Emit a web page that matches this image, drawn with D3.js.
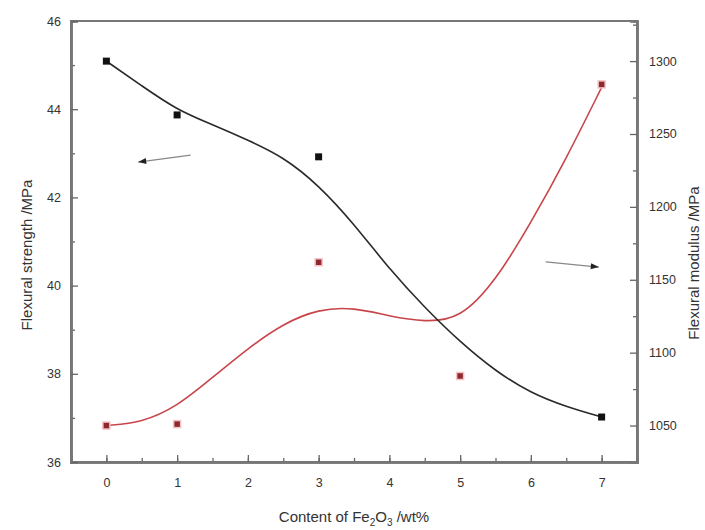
<!DOCTYPE html>
<html>
<head>
    <meta charset="utf-8">
    <title>Flexural strength and modulus vs Fe2O3</title>
    <script src="https://d3js.org/d3.v7.min.js"></script>
    <style>
        body { margin: 0; background: #fff; }
        text { font-family: "Liberation Sans", Arial, sans-serif; fill: #333; }
    </style>
</head>
<body>
<script>
    // measured points
    var strengthX = [0, 1, 3, 7];
    var strength = [45.09, 43.87, 42.92, 37.02];
    var modulusX = [0, 1, 3, 5, 7];
    var modulus = [1050, 1051, 1162, 1084, 1284];

    // smoothed curves
    var fitX = [0, 0.5, 1, 1.5, 2, 2.5, 3, 3.5, 4, 4.5, 5, 5.5, 6, 6.5, 7];
    var strengthFit = [45.09, 44.53, 43.98, 43.65, 43.30, 42.92, 42.28, 41.40, 40.37, 39.50, 38.72, 38.06, 37.56, 37.25, 37.02];
    var modulusFit = [1050, 1052, 1063, 1083, 1103, 1120, 1130, 1131, 1125, 1121, 1123, 1149, 1189, 1233, 1282];

    // ticks
    var xTicks = [0, 1, 2, 3, 4, 5, 6, 7];
    var leftTicks = [36, 38, 40, 42, 44, 46];
    var rightTicks = [1050, 1100, 1150, 1200, 1250, 1300];

    // arrows [x1, y1, x2, y2] in x / left-axis units
    var arrows = [[1.19, 42.96, 0.45, 42.80], [6.21, 40.54, 6.96, 40.42]];

    var w = 705, h = 530;
    var m = {top: 21, right: 68, bottom: 68, left: 71};

    var svg = d3.select("body").append("svg")
        .attr("width", w)
        .attr("height", h);

    var x = d3.scaleLinear().domain([-0.5, 7.5]).range([m.left, w - m.right]);
    var yL = d3.scaleLinear().domain([36, 46]).range([h - m.bottom, m.top]);
    var yR = d3.scaleLinear().domain([1025, 1327.5]).range([h - m.bottom, m.top]);

    // frame
    svg.append("rect")
        .attr("x", m.left).attr("y", m.top)
        .attr("width", w - m.left - m.right)
        .attr("height", h - m.top - m.bottom)
        .attr("fill", "none")
        .attr("stroke", "#777")
        .attr("stroke-width", 2);

    function styleAxis(g) {
        g.select(".domain").attr("stroke", "#777").attr("stroke-width", 2.5);
        g.selectAll(".tick line").attr("stroke", "#666").attr("stroke-width", 1.3);
        g.selectAll(".tick text").attr("font-size", 12.5);
    }

    // minor ticks first
    svg.append("g")
        .attr("transform", "translate(0," + (h - m.bottom) + ")")
        .call(d3.axisBottom(x).tickValues(d3.range(-0.5, 7.6, 0.5)).tickSize(-4).tickFormat(""))
        .call(styleAxis);
    svg.append("g")
        .attr("transform", "translate(" + m.left + ",0)")
        .call(d3.axisLeft(yL).tickValues(d3.range(37, 46, 2)).tickSize(-4).tickFormat(""))
        .call(styleAxis);
    svg.append("g")
        .attr("transform", "translate(" + (w - m.right) + ",0)")
        .call(d3.axisRight(yR).tickValues(d3.range(1075, 1326, 50)).tickSize(-4).tickFormat(""))
        .call(styleAxis);

    // major ticks
    svg.append("g")
        .attr("transform", "translate(0," + (h - m.bottom) + ")")
        .call(d3.axisBottom(x).tickValues(xTicks).tickSize(-7).tickPadding(16).tickFormat(d3.format("d")))
        .call(styleAxis);
    svg.append("g")
        .attr("transform", "translate(" + m.left + ",0)")
        .call(d3.axisLeft(yL).tickValues(leftTicks).tickSize(-7).tickPadding(10).tickFormat(d3.format("d")))
        .call(styleAxis);
    svg.append("g")
        .attr("transform", "translate(" + (w - m.right) + ",0)")
        .call(d3.axisRight(yR).tickValues(rightTicks).tickSize(-7).tickPadding(12).tickFormat(d3.format("d")))
        .call(styleAxis);

    // axis titles
    var xt = svg.append("text")
        .attr("x", x(3.5)).attr("y", 522)
        .attr("text-anchor", "middle")
        .attr("font-size", 15);
    xt.append("tspan").text("Content of Fe");
    xt.append("tspan").attr("font-size", 10).attr("dy", 4).text("2");
    xt.append("tspan").attr("dy", -4).text("O");
    xt.append("tspan").attr("font-size", 10).attr("dy", 4).text("3");
    xt.append("tspan").attr("dy", -4).text(" /wt%");

    svg.append("text")
        .attr("transform", "translate(32,255) rotate(-90)")
        .attr("text-anchor", "middle")
        .attr("font-size", 15)
        .text("Flexural strength /MPa");

    svg.append("text")
        .attr("transform", "translate(699,263) rotate(-90)")
        .attr("text-anchor", "middle")
        .attr("font-size", 15)
        .text("Flexural modulus /MPa");

    // curves
    var lineL = d3.line()
        .x(function(d, i) { return x(fitX[i]); })
        .y(function(d) { return yL(d); })
        .curve(d3.curveBasis);
    var lineR = d3.line()
        .x(function(d, i) { return x(fitX[i]); })
        .y(function(d) { return yR(d); })
        .curve(d3.curveBasis);

    svg.append("path")
        .datum(modulusFit)
        .attr("d", lineR)
        .attr("fill", "none")
        .attr("stroke", "#c8454a")
        .attr("stroke-width", 1.6);

    svg.append("path")
        .datum(strengthFit)
        .attr("d", lineL)
        .attr("fill", "none")
        .attr("stroke", "#2a2a2a")
        .attr("stroke-width", 1.6);

    // points
    var s = 7;
    svg.append("g").selectAll("rect")
        .data(strength)
        .enter().append("rect")
        .attr("x", function(d, i) { return x(strengthX[i]) - s / 2; })
        .attr("y", function(d) { return yL(d) - s / 2; })
        .attr("width", s).attr("height", s)
        .attr("fill", "#111");

    svg.append("g").selectAll("rect")
        .data(modulus)
        .enter().append("rect")
        .attr("x", function(d, i) { return x(modulusX[i]) - s / 2; })
        .attr("y", function(d) { return yR(d) - s / 2; })
        .attr("width", s).attr("height", s)
        .attr("fill", "#8e2a2e")
        .attr("stroke", "#f3c4c6")
        .attr("stroke-width", 1.5);

    // arrows
    var ag = svg.append("g");
    arrows.forEach(function(a) {
        var x1 = x(a[0]), y1 = yL(a[1]), x2 = x(a[2]), y2 = yL(a[3]);
        ag.append("line")
            .attr("x1", x1).attr("y1", y1).attr("x2", x2).attr("y2", y2)
            .attr("stroke", "#888").attr("stroke-width", 1.3);
        var ang = Math.atan2(y2 - y1, x2 - x1) * 180 / Math.PI;
        ag.append("path")
            .attr("d", "M0,0L-8,-3L-8,3Z")
            .attr("transform", "translate(" + x2 + "," + y2 + ") rotate(" + ang + ")")
            .attr("fill", "#222");
    });
</script>
</body>
</html>
